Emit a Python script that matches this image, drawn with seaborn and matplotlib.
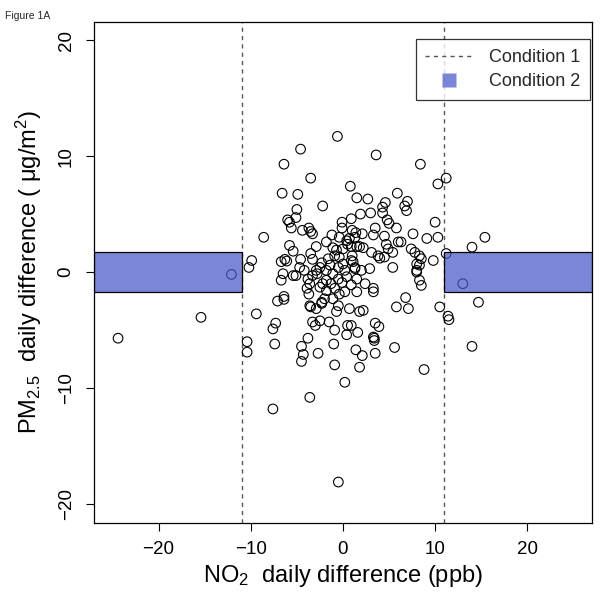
import matplotlib
matplotlib.use("Agg")
import matplotlib.pyplot as plt
import seaborn as sns
import pandas as pd
from matplotlib.patches import Rectangle
from matplotlib.lines import Line2D

# daily differences
no2_diff = [
    -24.4, -15.4, -12.1, -9.9, -10.2, -10.4, -10.4, -9.4, -8.6, -7.6, -3.6, -0.5, -0.6, -4.6, -6.4,
    -3.5, -6.6, -4.9, -2.2, 0.8, 1.5, -5.0, -5.1, -6.0, -5.8, -5.6, -3.7, -3.5, -3.3, -4.4,
    3.6, 8.4, 10.3, 11.2, 2.7, 5.9, 7.0, 6.7, 6.9, 4.6, 4.3, 4.3, 3.0, 1.9, 0.9, 4.8, 5.0,
    3.5, 5.8, 10.0, 7.6, 1.4, 1.0, 2.1, 4.5, 9.1, 10.3,
    -0.1, -0.1, -1.2, -0.4, 0.4, 0.7, -1.8, -2.9, -5.8, -5.4, -6.3, -4.6, -3.5, -3.3, -1.1,
    -0.7, -0.9, 0.0, 0.5, 0.9, 1.8, 2.2, 3.1, 3.8, 4.0, 4.7, 4.9, 6.0, 6.3, 5.4, 4.5, 5.4,
    7.4, 7.8, 8.0, 8.0, 2.9, 2.0, 0.9, 1.3, -0.4, 0.0, -0.5, -1.6, -1.4, -1.8, -2.5, -2.9,
    -3.3, -4.7, -4.2, -6.5,
    -5.4, -5.1, -6.7, -6.4, -3.8, -3.6, -3.9, -3.7, -3.5, -2.8, -2.2, -1.8, -1.1, -0.5, -1.3,
    -0.9, -0.4, -1.1, -2.3, -2.0, -0.5, -0.7, 0.2, 0.4, 0.9, 1.5, 1.5, 2.4, 3.3, 3.3, 0.7,
    1.8, 2.2, 6.8, 5.8, 7.1, -3.3, -3.0, -2.5, -1.5, -0.9, 0.4, 0.5, 0.9, 1.6, 3.3, 3.5, 3.9,
    3.4, -3.8, -4.5, -4.3, -4.5, -2.7, -1.0, 1.4, 2.1, 3.5, 5.6, -0.9, 1.8, 0.2,
    8.8, 3.4, -7.4,
    -6.7, -6.1, -7.1, -6.4, -7.3, -7.6, -3.6, -2.3, -2.9,
    3.3, 1.3, 1.5, 1.0, 1.1, 1.3, 8.3, 8.5, 8.3, 8.0, 8.3, 8.5, 9.8, 11.2, 13.0, 10.5, 11.4, 11.5,
    15.4, 14.0, 14.7, 14.0,
    -2.5, -1.8, -0.1, 0.2, -2.3,
]
pm25_diff = [
    -5.7, -3.9, -0.2, 1.0, 0.4, -6.0, -6.9, -3.6, 3.0, -11.8, -10.8, -18.1, 11.7, 10.6, 9.3,
    8.1, 6.8, 6.7, 5.7, 7.4, 6.4, 5.4, 4.7, 4.5, 4.3, 3.8, 3.8, 3.5, 3.3, 3.6,
    10.1, 9.3, 7.6, 8.1, 6.3, 6.8, 6.1, 5.7, 5.3, 6.0, 5.6, 5.1, 5.1, 5.0, 4.6, 4.5, 4.2,
    3.8, 3.8, 4.3, 3.3, 3.4, 3.6, 3.3, 3.1, 2.9, 3.0,
    4.3, 3.8, 3.2, 3.0, 2.7, 2.9, 2.6, 2.2, 2.3, 1.8, 1.1, 1.1, 1.6, 1.1, 2.1,
    1.9, 1.4, 2.0, 2.4, 2.2, 2.2, 2.1, 1.7, 1.4, 1.2, 2.4, 2.0, 2.6, 2.6, 1.7, 1.3, 0.4,
    2.0, 1.7, 0.7, 0.15, 0.3, 0.15, 1.0, 0.4, 1.3, 0.7, 0.4, 1.15, 0.6, 0.15, 0.4, 0.15,
    -0.3, 0.4, 0.15, -0.14,
    -0.3, -0.3, -0.7, -2.1, -0.6, -1.0, -1.4, -1.9, -3.0, -0.14, -1.0, -1.6, -0.14, -0.6, -1.0,
    -1.4, -1.9, -2.3, -2.6, -2.3, -2.9, -3.4, -1.7, -0.4, -1.1, -0.6, -1.7, -1.0, -1.4, -1.7, -3.15,
    -3.4, -3.3, -2.2, -3.0, -3.15, -4.3, -4.6, -4.2, -4.3, -5.0, -5.4, -4.6, -4.6, -5.2, -5.6, -4.4, -4.7,
    -5.7, -5.7, -6.4, -7.1, -7.7, -7.0, -6.2, -6.7, -7.2, -7.0, -6.5, -8.0, -8.2, -9.5,
    -8.4, -5.9, -6.2,
    0.9, 0.95, -2.5, -2.35, -4.4, -4.9, -2.9, -2.7, -3.15,
    3.2, 3.0, 2.2, 1.4, 0.9, 0.3, 1.4, 1.15, 0.6, 0.0, -0.7, -1.15, 1.0, 1.6, -1.0, -3.0, -3.8, -4.1,
    3.0, 2.15, -2.6, -6.4,
    -1.3, -0.7, -0.9, 0.15, 0.8,
]

no2_cutoff = 11          # condition 1: |NO2 diff| > 11 ppb
pm25_band = 1.75         # condition 2: |PM2.5 diff| < 1.75
x_lim = (-27, 27)
y_lim = (-21.6, 21.6)
x_ticks = [-20, -10, 0, 10, 20]
y_ticks = [-20, -10, 0, 10, 20]

df = pd.DataFrame({"no2": no2_diff, "pm25": pm25_diff})

sns.set_theme(style="white")
plt.rcParams["font.family"] = ["Liberation Sans", "DejaVu Sans"]
plt.rcParams["mathtext.default"] = "regular"

band_color = (0.29, 0.345, 0.78, 0.72)

fig = plt.figure(figsize=(6.07, 5.98), dpi=100)
ax = fig.add_axes([0.155, 0.126, 0.82, 0.838])

sns.scatterplot(data=df, x="no2", y="pm25", ax=ax, marker="o", s=48,
                fc="none", ec="black", linewidth=0.8, zorder=2)

# condition 2 bands (outside the NO2 cutoffs)
ax.add_patch(Rectangle((x_lim[0], -pm25_band), -no2_cutoff - x_lim[0], 2 * pm25_band,
                       facecolor=band_color, edgecolor="black", linewidth=0.9, zorder=3))
ax.add_patch(Rectangle((no2_cutoff, -pm25_band), x_lim[1] - no2_cutoff, 2 * pm25_band,
                       facecolor=band_color, edgecolor="black", linewidth=0.9, zorder=3))

# condition 1 cutoffs
for xc in (-no2_cutoff, no2_cutoff):
    ax.axvline(xc, color="#555555", linestyle=(0, (3, 3)), linewidth=1.0, zorder=1)

ax.set_xlim(*x_lim)
ax.set_ylim(*y_lim)
ax.set_xticks(x_ticks)
ax.set_yticks(y_ticks)
ax.set_xticklabels([str(t).replace("-", "\u2212") for t in x_ticks])
ax.set_yticklabels([str(t).replace("-", "\u2212") for t in y_ticks], rotation=90, va="center")

for s in ax.spines.values():
    s.set_color("black")
    s.set_linewidth(0.9)

ax.tick_params(axis="both", direction="out", length=6, width=0.8, color="black",
               labelsize=13.5, labelcolor="black")
ax.tick_params(axis="x", pad=7, bottom=True)
ax.tick_params(axis="y", pad=8, left=True)

ax.set_xlabel("NO$_2$  daily difference (ppb)", fontsize=17, labelpad=4, color="black")
ax.set_ylabel("PM$_{2.5}$  daily difference ( \u03bcg/m$^2$)", fontsize=17, labelpad=10,
              color="black")

handles = [Line2D([0], [0], color="#555555", linestyle=(0, (3, 3)), linewidth=1.0),
           Line2D([0], [0], linestyle="none", marker="s", markersize=10,
                  markerfacecolor=band_color, markeredgecolor="none")]
leg = ax.legend(handles, ["Condition 1", "Condition 2"], loc="upper right",
                bbox_to_anchor=(0.996, 0.965), fontsize=13, frameon=True, fancybox=False,
                handlelength=2.6, handletextpad=0.9, borderpad=0.55, labelspacing=0.4,
                borderaxespad=0)
leg.get_frame().set_edgecolor("black")
leg.get_frame().set_linewidth(0.9)

fig.text(0.008, 0.982, "Figure 1A", fontsize=7.5, va="top", ha="left")

fig.savefig("out.png", dpi=100)
